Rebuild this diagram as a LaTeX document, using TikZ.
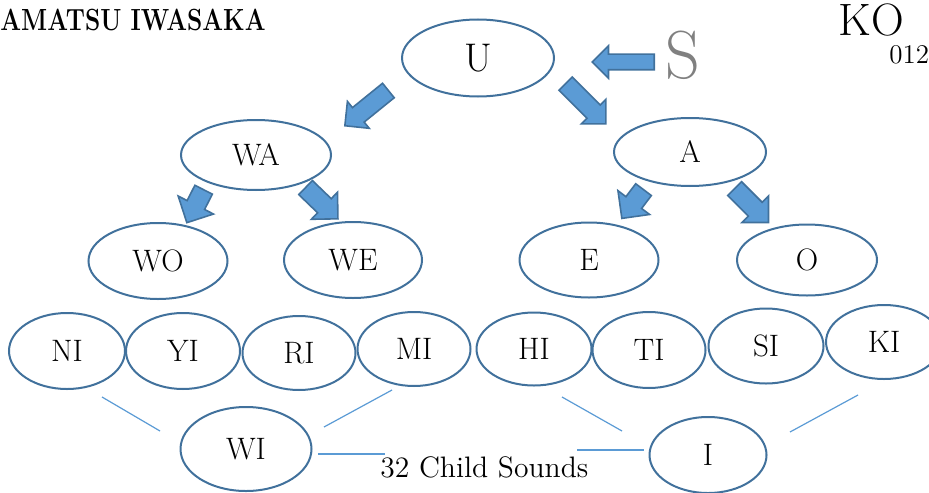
\documentclass[tikz,border=0pt]{standalone}
\usepackage{tikz}
\usetikzlibrary{shapes.geometric, shapes.arrows}

\definecolor{EdgeBlue}{RGB}{65,113,156}
\definecolor{FillBlue}{RGB}{91,155,213}
\definecolor{LineBlue}{RGB}{91,155,213}
\definecolor{LetterGray}{RGB}{128,128,128}

\begin{document}
\begin{tikzpicture}[x=0.5pt, y=-0.5pt]
    \tikzset{SoundStyle/.style = {ellipse, draw=EdgeBlue, line width=1pt, inner sep=0pt,
                                  font=\fontsize{15.5}{18}\selectfont}}
    \tikzset{ArrowStyle/.style = {single arrow, draw=EdgeBlue, fill=FillBlue, line width=0.8pt,
                                  inner xsep=0pt, inner ysep=4.25pt, anchor=tail, minimum width=0pt,
                                  single arrow head extend=4pt}}
    \tikzset{LinkStyle/.style = {draw=LineBlue, line width=0.6pt}}
    \useasboundingbox (0,0) rectangle (929,492);

    % top texts
    \node[anchor=base west, inner sep=0pt, font=\bfseries\fontsize{15.3}{17}\selectfont](Title) at (0,31)
        {\scalebox{0.8}[1]{AMATSU IWASAKA}};
    \node[anchor=base west, inner sep=0pt, font=\fontsize{22.7}{26}\selectfont](KO) at (838,36){KO};
    \node[anchor=base west, inner sep=0pt, font=\fontsize{13.5}{15}\selectfont](Num) at (889,64){012};
    \node[anchor=base, inner sep=0pt, text=LetterGray, font=\fontsize{34}{38}\selectfont](Sletter) at (683,79){S};

    % sounds
    \node[SoundStyle, minimum width=76pt, minimum height=38.5pt, font=\fontsize{20}{24}\selectfont](U) at (478,58){U};
    \node[SoundStyle, minimum width=75pt, minimum height=35pt](WA) at (256,155){WA};
    \node[SoundStyle, minimum width=76pt, minimum height=34pt](A) at (690,152){A};
    \node[SoundStyle, minimum width=69.5pt, minimum height=38pt](WO) at (158,261){WO};
    \node[SoundStyle, minimum width=69pt, minimum height=38pt](WE) at (353,260){WE};
    \node[SoundStyle, minimum width=69.5pt, minimum height=37.5pt](E) at (589,260){E};
    \node[SoundStyle, minimum width=70pt, minimum height=35.5pt](O) at (807,260){O};
    \node[SoundStyle, minimum width=58pt, minimum height=38pt](NI) at (67,351){NI};
    \node[SoundStyle, minimum width=57pt, minimum height=38pt](YI) at (183,351){YI};
    \node[SoundStyle, minimum width=56.5pt, minimum height=37pt](RI) at (299,353){RI};
    \node[SoundStyle, minimum width=56.5pt, minimum height=37pt](MI) at (414,349){MI};
    \node[SoundStyle, minimum width=57.5pt, minimum height=36.5pt](HI) at (534,349){HI};
    \node[SoundStyle, minimum width=56.5pt, minimum height=38pt](TI) at (649,350){TI};
    \node[SoundStyle, minimum width=57.5pt, minimum height=37.5pt](SI) at (766,346){SI};
    \node[SoundStyle, minimum width=58pt, minimum height=37pt](KI) at (884,342){KI};
    \node[SoundStyle, minimum width=65.5pt, minimum height=42pt](WI) at (246,449){WI};
    \node[SoundStyle, minimum width=58.5pt, minimum height=38pt](I) at (708,455){I};

    \node[anchor=base west, inner sep=0pt, font=\fontsize{14.8}{17}\selectfont](Child) at (380,477){32 Child Sounds};

    % block arrows
    \node[ArrowStyle, rotate=-141, minimum height=28pt](ArrUL) at (389,90){};
    \node[ArrowStyle, rotate=-45, minimum height=28.5pt](ArrUR) at (565,83){};
    \node[ArrowStyle, rotate=180, minimum height=31pt, inner ysep=3.5pt,
          single arrow head extend=4.25pt](ArrS) at (655,62){};
    \node[ArrowStyle, rotate=-117, minimum height=18.5pt, inner ysep=4.5pt,
          single arrow head extend=5pt](ArrWAL) at (204,189){};
    \node[ArrowStyle, rotate=-44, minimum height=22.5pt, inner ysep=4.5pt,
          single arrow head extend=4.5pt](ArrWAR) at (305,187){};
    \node[ArrowStyle, rotate=-127, minimum height=18pt, inner ysep=4.5pt,
          single arrow head extend=5pt](ArrAL) at (644,189){};
    \node[ArrowStyle, rotate=-45, minimum height=24pt, inner ysep=4.5pt,
          single arrow head extend=4.5pt](ArrAR) at (734,188){};

    % thin links
    \coordinate (LNa) at (102,397);
    \coordinate (LNb) at (160,431);
    \coordinate (LMa) at (392,390);
    \coordinate (LMb) at (324,427);
    \coordinate (LWa) at (318,454);
    \coordinate (LWb) at (385,454);
    \coordinate (LHa) at (562,397);
    \coordinate (LHb) at (622,431);
    \coordinate (LKa) at (858,395);
    \coordinate (LKb) at (790,432);
    \coordinate (LIa) at (577,450);
    \coordinate (LIb) at (644,450);
    \draw[LinkStyle](LNa) -- (LNb);
    \draw[LinkStyle](LMa) -- (LMb);
    \draw[LinkStyle](LWa) -- (LWb);
    \draw[LinkStyle](LHa) -- (LHb);
    \draw[LinkStyle](LKa) -- (LKb);
    \draw[LinkStyle](LIa) -- (LIb);
\end{tikzpicture}
\end{document}
